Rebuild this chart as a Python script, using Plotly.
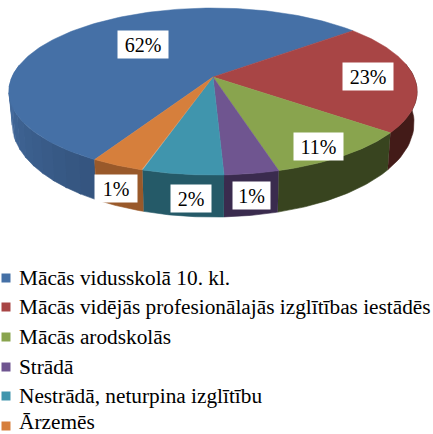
import numpy as np
import plotly.graph_objects as go

categories = ["Mācās vidusskolā 10. kl.",
              "Mācās vidējās profesionālajās izglītības iestādēs",
              "Mācās arodskolās", "Strādā",
              "Nestrādā, neturpina izglītību", "Ārzemēs"]
labels = ["62%", "23%", "11%", "1%", "2%", "1%"]
# slice sizes (degrees of arc)
arc_sizes = [200.6, 77.4, 36.2, 13.2, 19.6, 13.0]
top_colors = ["#4570a6", "#a84545", "#89a44e", "#6f5590", "#4095ad", "#d67f3c"]
wall_colors = ["#3f6491", "#431b18", "#38441f", "#3a2b4e", "#255a68", "#99592a"]

CX, CY, RX, RY, K = 213, 77, 201, 81, 0.174
START = 240.0


def project(t):
    c, s = np.cos(t), np.sin(t)
    d = 1 + K * s
    return CX + RX * c / d, CY - RY * s / d


def project_bottom(t):
    x, y = project(t)
    s = np.sin(t)
    return CX + (x - CX) * 0.985, y + 29 - 13 * s


fig = go.Figure()
edges = START - np.cumsum([0] + arc_sizes)


def add_wall(t, color):
    tx, ty = project(t)
    bx, by = project_bottom(t)
    fig.add_trace(go.Scatter(
        x=np.r_[tx, bx[::-1]], y=np.r_[ty, by[::-1]], fill="toself",
        mode="lines", line=dict(width=0.6, color=color), fillcolor=color,
        hoverinfo="skip", showlegend=False))


# walls
for i in range(len(arc_sizes)):
    a0, a1 = edges[i], edges[i + 1]
    if i == 0:
        # blue wall shaded in bands towards the front
        bands = np.linspace(a0, 172, 15)
        c0, c1 = np.array([0x35, 0x55, 0x80]), np.array([0x47, 0x70, 0xa4])
        for j in range(len(bands) - 1):
            t = np.radians(np.linspace(bands[j], bands[j + 1] - 0.5, 12))
            col = c0 + (c1 - c0) * j / (len(bands) - 2)
            add_wall(t, "rgb(%d,%d,%d)" % tuple(col))
        continue
    t = np.radians(np.linspace(a0, a1, 40))
    add_wall(t[np.sin(t) <= 0.2], wall_colors[i])

# top faces
for i in range(len(arc_sizes)):
    t = np.radians(np.linspace(edges[i], edges[i + 1], 160))
    x, y = project(t)
    fig.add_trace(go.Scatter(
        x=np.r_[CX, x, CX], y=np.r_[CY, y, CY], fill="toself", mode="lines",
        line=dict(width=0.5, color=top_colors[i]), fillcolor=top_colors[i],
        name=categories[i], hoverinfo="name", showlegend=False))

# value labels
label_xy = [(143, 44), (368, 76), (318.5, 146), (251.5, 195.5), (191, 198.5), (116, 188)]
label_w = [50, 50, 49, 37, 40, 42]
label_h = 27
for txt, (lx, ly), w in zip(labels, label_xy, label_w):
    fig.add_annotation(x=lx, y=ly, text=txt, showarrow=False, bgcolor="white",
                       width=w, height=label_h, borderpad=0,
                       font=dict(family="Liberation Serif", size=20, color="#000000"))

# legend
legend_y = [278, 307, 337, 367, 396, 426]
text_y = [278, 307, 337, 367, 396, 421.5]
for cat, col, ly, ty in zip(categories, top_colors, legend_y, text_y):
    fig.add_trace(go.Scatter(x=[6], y=[ly], mode="markers",
                             marker=dict(symbol="square", size=9, color=col),
                             hoverinfo="skip", showlegend=False))
    fig.add_annotation(x=17, y=ty, text=cat, showarrow=False, xanchor="left",
                       font=dict(family="Liberation Serif", size=21.3, color="#000000"))

fig.update_layout(
    width=433, height=434, margin=dict(l=0, r=0, t=0, b=0),
    paper_bgcolor="white", plot_bgcolor="white",
    xaxis=dict(range=[0, 433], visible=False, fixedrange=True),
    yaxis=dict(range=[434, 0], visible=False, fixedrange=True),
)
fig.write_html("out.html", config=dict(displayModeBar=False),
               post_script="document.body.style.margin='0';")
